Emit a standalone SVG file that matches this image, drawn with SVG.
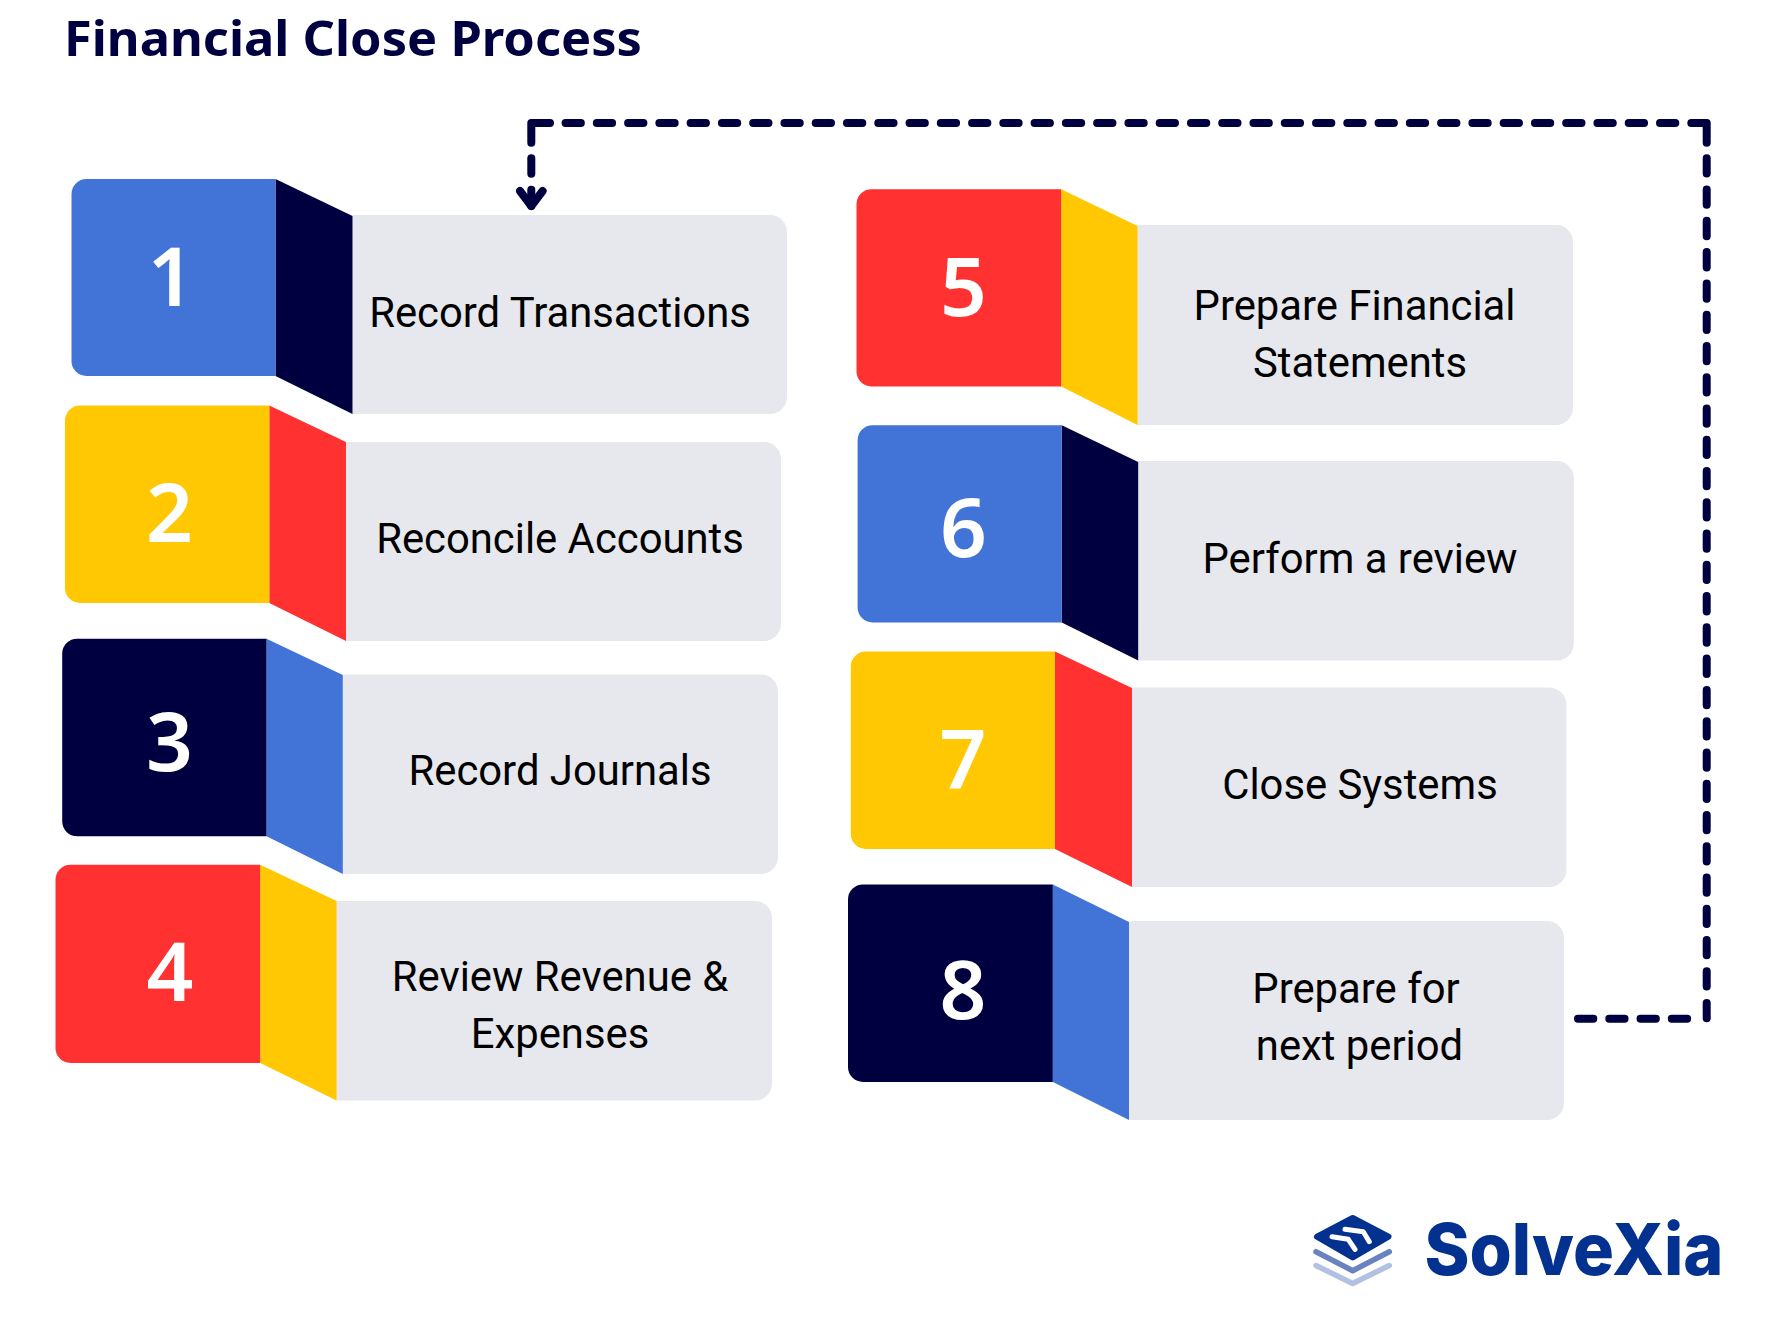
<svg xmlns="http://www.w3.org/2000/svg" width="1774" height="1336" viewBox="0 0 1774 1336">
<style>
.card{fill:#e7e8ed}
.lbl{font-family:Roboto,"Liberation Sans",sans-serif;font-size:41.8px;fill:#000;text-anchor:middle}
.num{font-family:"Noto Sans","Open Sans",sans-serif;font-size:82px;font-weight:600;fill:#fff;text-anchor:middle}
.blue{fill:#4273d6}.navy{fill:#000040}.red{fill:#ff3131}.yellow{fill:#ffc803}
.dash{fill:none;stroke:#000040;stroke-width:8;stroke-linecap:round;stroke-linejoin:round}
</style>
<defs>
<marker id="head" markerUnits="userSpaceOnUse" viewBox="0 0 40 30" markerWidth="40" markerHeight="30" refX="20" refY="20" orient="0">
<path d="M8.700,5L20,20L31.300,5" fill="none" stroke="#000040" stroke-width="8" stroke-linecap="round" stroke-linejoin="round"/>
</marker>
</defs>
<rect width="1774" height="1336" fill="#fff"/>
<text id="title" x="64" y="56" font-family="'Noto Sans','Open Sans',sans-serif" font-size="48" font-weight="700" fill="#000040" textLength="578" lengthAdjust="spacingAndGlyphs">Financial Close Process</text>

<g id="node1">
<path class="card" d="M352.500,215H770a17,17 0 0 1 17,17V397a17,17 0 0 1 -17,17H352.500Z"/>
<path class="navy" d="M275.500,179L352.500,216V414L275.500,376Z"/>
<path class="blue" d="M275.500,179V376H86.500a15,15 0 0 1 -15,-15V194a15,15 0 0 1 15,-15Z"/>
<text class="num" x="171" y="306">1</text>
<text class="lbl" x="560" y="327">Record Transactions</text>
</g>
<g id="node2">
<path class="card" d="M346,442H764a17,17 0 0 1 17,17V624a17,17 0 0 1 -17,17H346Z"/>
<path class="red" d="M269.300,405.600L346,442V641L269.300,603Z"/>
<path class="yellow" d="M269.300,405.600V603H80a15,15 0 0 1 -15,-15V420.600a15,15 0 0 1 15,-15Z"/>
<text class="num" x="169.500" y="542">2</text>
<text class="lbl" x="560" y="552.500">Reconcile Accounts</text>
</g>
<g id="node3">
<path class="card" d="M342.800,674.400H761a17,17 0 0 1 17,17V857a17,17 0 0 1 -17,17H342.800Z"/>
<path class="blue" d="M266.500,638.700L342.800,675V874L266.500,836.300Z"/>
<path class="navy" d="M266.500,638.700V836.300H77.200a15,15 0 0 1 -15,-15V653.700a15,15 0 0 1 15,-15Z"/>
<text class="num" x="169.500" y="771">3</text>
<text class="lbl" x="560" y="784.500">Record Journals</text>
</g>
<g id="node4">
<path class="card" d="M336.600,901H755a17,17 0 0 1 17,17V1083.500a17,17 0 0 1 -17,17H336.600Z"/>
<path class="yellow" d="M260.200,864.800L336.600,901V1100.500L260.200,1063Z"/>
<path class="red" d="M260.200,864.800V1063H70.500a15,15 0 0 1 -15,-15V879.800a15,15 0 0 1 15,-15Z"/>
<text class="num" x="170" y="1001">4</text>
<text class="lbl"><tspan x="560" y="990.500">Review Revenue &amp;</tspan><tspan x="560" y="1047.500">Expenses</tspan></text>
</g>
<g id="node5">
<path class="card" d="M1137.600,225H1556a17,17 0 0 1 17,17V408a17,17 0 0 1 -17,17H1137.600Z"/>
<path class="yellow" d="M1061.200,189.200L1137.600,226V425L1061.200,386.500Z"/>
<path class="red" d="M1061.200,189.200V386.500H871.500a15,15 0 0 1 -15,-15V204.200a15,15 0 0 1 15,-15Z"/>
<text class="num" x="963.500" y="316">5</text>
<text class="lbl"><tspan x="1354.500" y="319.500">Prepare Financial</tspan><tspan x="1360" y="376.500">Statements</tspan></text>
</g>
<g id="node6">
<path class="card" d="M1138.200,461H1556.800a17,17 0 0 1 17,17V643.500a17,17 0 0 1 -17,17H1138.200Z"/>
<path class="navy" d="M1061.800,425.200L1138.200,462V660.500L1061.800,622.500Z"/>
<path class="blue" d="M1061.800,425.200V622.500H872.600a15,15 0 0 1 -15,-15V440.200a15,15 0 0 1 15,-15Z"/>
<text class="num" x="963.500" y="557">6</text>
<text class="lbl" x="1360" y="573">Perform a review</text>
</g>
<g id="node7">
<path class="card" d="M1132,687.600H1549.400a17,17 0 0 1 17,17V870a17,17 0 0 1 -17,17H1132Z"/>
<path class="red" d="M1055,651.500L1132,688V887L1055,849Z"/>
<path class="yellow" d="M1055,651.500V849H865.800a15,15 0 0 1 -15,-15V666.500a15,15 0 0 1 15,-15Z"/>
<text class="num" x="963" y="788">7</text>
<text class="lbl" x="1360" y="799">Close Systems</text>
</g>
<g id="node8">
<path class="card" d="M1129,921H1547a17,17 0 0 1 17,17V1103a17,17 0 0 1 -17,17H1129Z"/>
<path class="blue" d="M1052.800,884.400L1129,922V1120L1052.800,1082Z"/>
<path class="navy" d="M1052.800,884.400V1082H863a15,15 0 0 1 -15,-15V899.400a15,15 0 0 1 15,-15Z"/>
<text class="num" x="963" y="1018.500">8</text>
<text class="lbl"><tspan x="1356" y="1002.500">Prepare for</tspan><tspan x="1359.500" y="1059.500">next period</tspan></text>
</g>

<g id="connectors">
<path class="dash" stroke-dasharray="15.3,15.97" d="M1578,1018.700H1690"/>
<path class="dash" d="M1706.700,1002.900V1018.200"/>
<path class="dash" stroke-dasharray="15.3,15.97" d="M1706.700,158.300V990"/>
<path class="dash" d="M1691.300,123H1706.700V142.700"/>
<path class="dash" stroke-dasharray="15.3,15.97" d="M1675.300,123H565"/>
<path class="dash" d="M550,123H531.300V142.700"/>
<path class="dash" d="M531.300,158.300V173.700"/>
<path class="dash" marker-end="url(#head)" d="M531.300,189.700V206"/>
</g>

<g id="logo">
<path d="M1352.700,1218L1388.500,1236.700L1352.700,1257.500L1317,1236.700Z" fill="#02318f" stroke="#02318f" stroke-width="6" stroke-linejoin="round"/>
<path d="M1332,1236.700L1348.300,1239.300L1355,1249.300M1345,1229.300L1363.300,1231.700L1369.300,1241.700" fill="none" stroke="#fff" stroke-width="5" stroke-linecap="round" stroke-linejoin="round"/>
<path d="M1316,1251.700L1352.700,1270.700L1389.300,1251.700" fill="none" stroke="#6a83c0" stroke-width="5.500" stroke-linecap="round" stroke-linejoin="round"/>
<path d="M1316,1265.500L1352.700,1283.500L1389.300,1265.500" fill="none" stroke="#b2c1e2" stroke-width="5.500" stroke-linecap="round" stroke-linejoin="round"/>
<text x="1424.500" y="1275" font-family="Inter,'Noto Sans',sans-serif" font-size="72" font-weight="800" fill="#02318f" textLength="299" lengthAdjust="spacingAndGlyphs">SolveXia</text>
</g>
</svg>
